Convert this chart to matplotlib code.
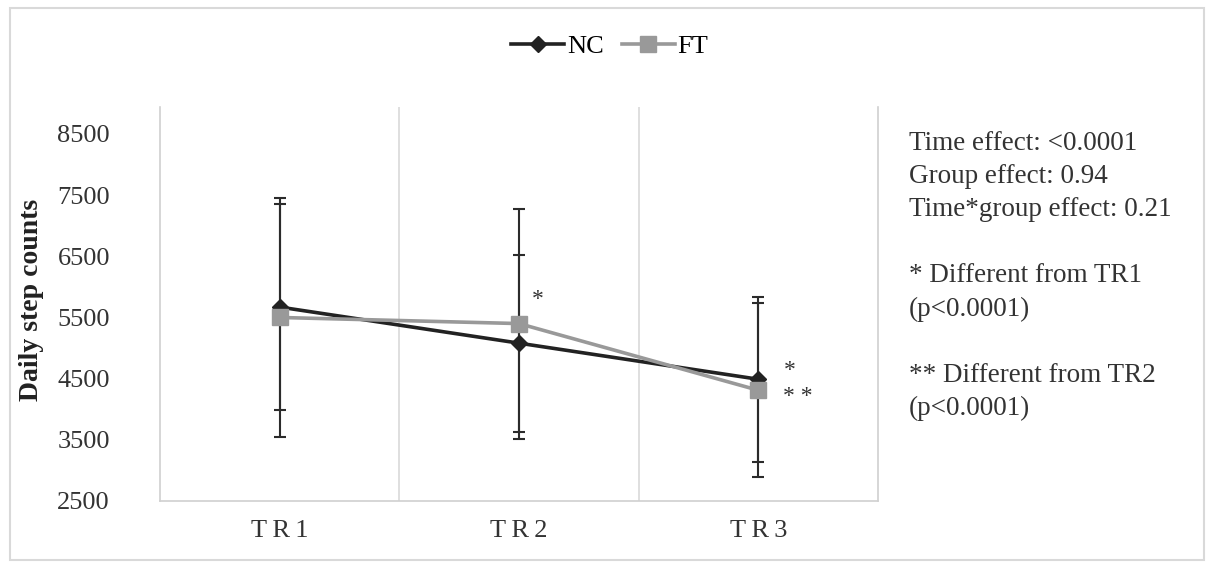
import numpy as np
import matplotlib.pyplot as plt
from matplotlib.patches import Rectangle

plt.rcParams['font.family'] = ['Liberation Serif', 'DejaVu Serif']

# data
periods = ['TR1', 'TR2', 'TR3']
nc_mean = [5670, 5080, 4490]
nc_sd = [1680, 1445, 1350]
ft_mean = [5500, 5400, 4310]
ft_sd = [1950, 1880, 1420]
yticks = [2500, 3500, 4500, 5500, 6500, 7500, 8500]
stats_text = ('Time effect: <0.0001\nGroup effect: 0.94\nTime*group effect: 0.21\n\n'
              '* Different from TR1\n(p<0.0001)\n\n** Different from TR2\n(p<0.0001)')

fig = plt.figure(figsize=(12.1, 5.65), dpi=100)
ax = fig.add_axes([0.1322, 0.1133, 0.7256 - 0.1322, 0.8106 - 0.1133])

x = np.arange(len(periods))
ax.errorbar(x, ft_mean, yerr=ft_sd, fmt='none', ecolor='#2b2b2b', elinewidth=1.5,
            capsize=4.3, capthick=1.5, zorder=2)
ax.errorbar(x, nc_mean, yerr=nc_sd, fmt='none', ecolor='#2b2b2b', elinewidth=1.5,
            capsize=4.3, capthick=1.5, zorder=2)
ax.plot(x, nc_mean, color='#222222', lw=2.6, marker='D', ms=8, label='NC', zorder=3)
ax.plot(x, ft_mean, color='#999999', lw=2.6, marker='s', ms=11, label='FT', zorder=4)

# significance marks
ax.text(1.08, 5800, '*', fontsize=17, ha='center', va='center', color='#333333')
ax.text(2.13, 4640, '*', fontsize=17, ha='center', va='center', color='#333333')
ax.text(2.165, 4200, '* *', fontsize=17, ha='center', va='center', color='#333333')

ax.set_xlim(-0.5, 2.5)
ax.set_ylim(2500, 8940)
ax.set_xticks(x)
ax.set_xticklabels(['\u2009'.join(p) for p in periods], fontsize=19)
ax.set_yticks(yticks)
ax.tick_params(axis='y', labelsize=19, length=0, pad=36)
ax.tick_params(axis='x', length=0, pad=14)
for lbl in ax.get_yticklabels() + ax.get_xticklabels():
    lbl.set_color('#333333')
for b in [0.5, 1.5]:
    ax.axvline(b, color='#d9d9d9', lw=1.2, zorder=0)
for side in ['left', 'right', 'bottom']:
    ax.spines[side].set_color('#d0d0d0')
    ax.spines[side].set_linewidth(1.2)
ax.spines['top'].set_visible(False)
ax.set_ylabel('Daily step counts', fontsize=20, fontweight='bold', color='#222222')
ax.yaxis.set_label_coords(-0.162, 0.51)

fig.legend(loc='center', bbox_to_anchor=(0.504, 0.918), ncol=2, frameon=False,
           fontsize=19, handlelength=2.0, columnspacing=0.7, handletextpad=0.1)

fig.text(0.751, 0.769, stats_text, fontsize=19.5, va='top', ha='left',
         color='#333333', linespacing=1.43)

fig.patches.append(Rectangle((0.008, 0.008), 0.987, 0.978, transform=fig.transFigure,
                             fill=False, edgecolor='#d9d9d9', lw=1.5))

fig.savefig('out.png', dpi=100)
